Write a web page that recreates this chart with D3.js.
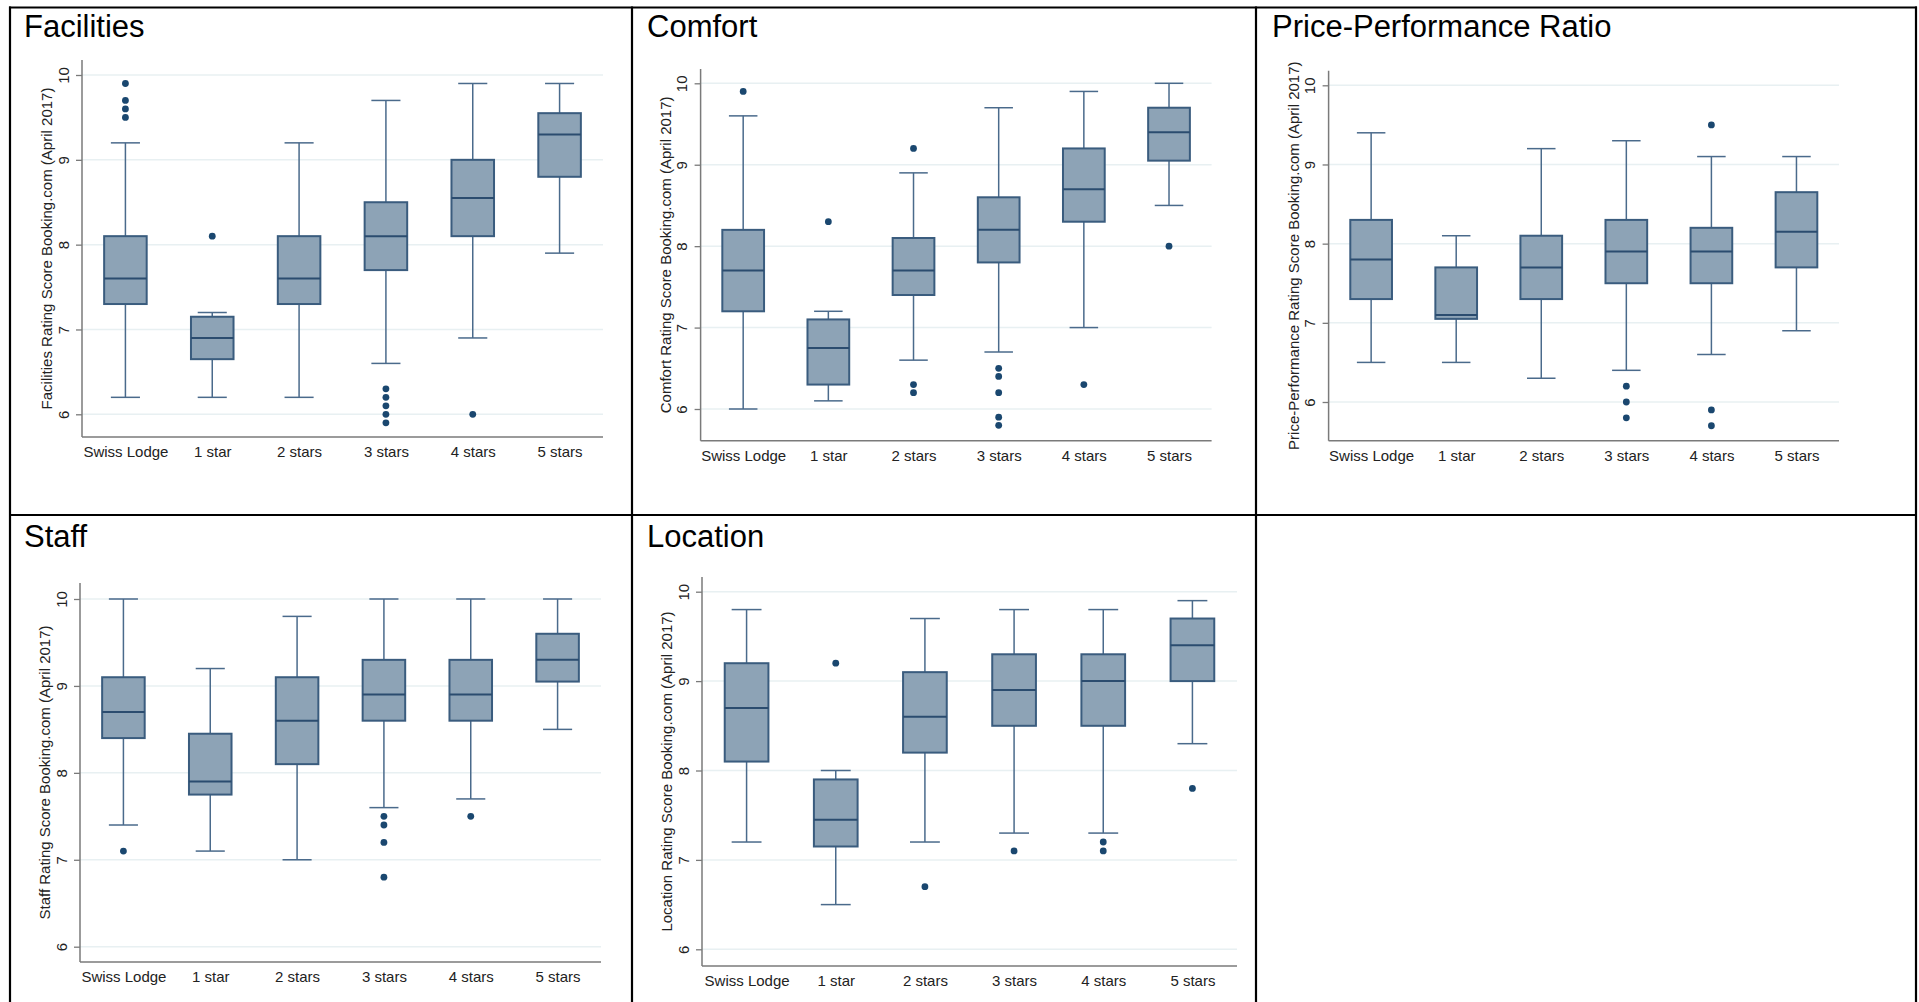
<!DOCTYPE html>
<html>
<head>
<meta charset="utf-8">
<script src="https://cdn.jsdelivr.net/npm/d3@7"></script>
<style>
  html, body { margin: 0; padding: 0; background: #fff; }
  svg { display: block; }
  text { font-family: "Liberation Sans", Arial, sans-serif; }
</style>
</head>
<body>
<svg id="chart" width="1919" height="1002"></svg>
<script>
// ---------- data ----------
const categories = ["Swiss Lodge", "1 star", "2 stars", "3 stars", "4 stars", "5 stars"];
const yTicks = [6, 7, 8, 9, 10];
const panelTitles = ["Facilities", "Comfort", "Price-Performance Ratio", "Staff", "Location"];
const axisTitles = [
  "Facilities Rating Score Booking.com (April 2017)",
  "Comfort Rating Score Booking.com (April 2017)",
  "Price-Performance Rating Score Booking.com (April 2017)",
  "Staff Rating Score Booking.com (April 2017)",
  "Location Rating Score Booking.com (April 2017)"
];

// each row: [lower whisker, Q1, median, Q3, upper whisker]
const facilitiesStats = [[6.2, 7.3, 7.6, 8.1, 9.2], [6.2, 6.65, 6.9, 7.15, 7.2], [6.2, 7.3, 7.6, 8.1, 9.2], [6.6, 7.7, 8.1, 8.5, 9.7], [6.9, 8.1, 8.55, 9.0, 9.9], [7.9, 8.8, 9.3, 9.55, 9.9]];
const facilitiesOutliers = [[9.5, 9.6, 9.7, 9.9], [8.1], [], [5.9, 6.0, 6.1, 6.2, 6.3], [6.0], []];

const comfortStats = [[6.0, 7.2, 7.7, 8.2, 9.6], [6.1, 6.3, 6.75, 7.1, 7.2], [6.6, 7.4, 7.7, 8.1, 8.9], [6.7, 7.8, 8.2, 8.6, 9.7], [7.0, 8.3, 8.7, 9.2, 9.9], [8.5, 9.05, 9.4, 9.7, 10.0]];
const comfortOutliers = [[9.9], [8.3], [9.2, 6.3, 6.2], [6.5, 6.4, 6.2, 5.9, 5.8], [6.3], [8.0]];

const priceStats = [[6.5, 7.3, 7.8, 8.3, 9.4], [6.5, 7.05, 7.1, 7.7, 8.1], [6.3, 7.3, 7.7, 8.1, 9.2], [6.4, 7.5, 7.9, 8.3, 9.3], [6.6, 7.5, 7.9, 8.2, 9.1], [6.9, 7.7, 8.15, 8.65, 9.1]];
const priceOutliers = [[], [], [], [6.2, 6.0, 5.8], [9.5, 5.9, 5.7], []];

const staffStats = [[7.4, 8.4, 8.7, 9.1, 10.0], [7.1, 7.75, 7.9, 8.45, 9.2], [7.0, 8.1, 8.6, 9.1, 9.8], [7.6, 8.6, 8.9, 9.3, 10.0], [7.7, 8.6, 8.9, 9.3, 10.0], [8.5, 9.05, 9.3, 9.6, 10.0]];
const staffOutliers = [[7.1], [], [], [7.5, 7.4, 7.2, 6.8], [7.5], []];

const locationStats = [[7.2, 8.1, 8.7, 9.2, 9.8], [6.5, 7.15, 7.45, 7.9, 8.0], [7.2, 8.2, 8.6, 9.1, 9.7], [7.3, 8.5, 8.9, 9.3, 9.8], [7.3, 8.5, 9.0, 9.3, 9.8], [8.3, 9.0, 9.4, 9.7, 9.9]];
const locationOutliers = [[], [9.2], [6.7], [7.1], [7.2, 7.1], [7.8]];

const panelStats = [facilitiesStats, comfortStats, priceStats, staffStats, locationStats];
const panelOutliers = [facilitiesOutliers, comfortOutliers, priceOutliers, staffOutliers, locationOutliers];

// ---------- layout (pixels) ----------
const layout = [
  { left: 82,    right: 603,  top: 60,    bottom: 437,   y6: 414.3, y10: 75,    tx: 24,   ty: 37 },
  { left: 700.6, right: 1211.6, top: 69,  bottom: 440.7, y6: 409,   y10: 83.3,  tx: 647,  ty: 37 },
  { left: 1328.6, right: 1839, top: 70.7, bottom: 440.7, y6: 402,   y10: 85.3,  tx: 1272, ty: 37 },
  { left: 80,    right: 601,  top: 583,   bottom: 962,   y6: 946.7, y10: 599,   tx: 24,   ty: 547 },
  { left: 702,   right: 1237, top: 577,   bottom: 966,   y6: 949.3, y10: 591.7, tx: 647,  ty: 547 }
];

const C = {
  grid: "#e8f0f2",
  axis: "#7a7a7a",
  fill: "#8da3b6",
  boxStroke: "#3a5c7e",
  median: "#2b4c6f",
  whisker: "#4a6a8b",
  dot: "#1a476f"
};

const svg = d3.select("#chart");

// table borders
const border = svg.append("g").attr("stroke", "#000").attr("stroke-width", 2.2);
[10, 632, 1256, 1916].forEach(x => border.append("line").attr("x1", x).attr("x2", x).attr("y1", 6.5).attr("y2", 1002));
[7.5, 515].forEach(y => border.append("line").attr("x1", 9).attr("x2", 1917).attr("y1", y).attr("y2", y));

layout.forEach((L, i) => {
  const g = svg.append("g");
  const stats = panelStats[i];
  const outs = panelOutliers[i];

  const x = d3.scalePoint().domain(categories).range([L.left, L.right]).padding(0.5);
  const y = d3.scaleLinear().domain([6, 10]).range([L.y6, L.y10]);
  const step = x.step();
  const bw = step * 0.49;
  const cw = step * 0.335;

  // title
  g.append("text").attr("x", L.tx).attr("y", L.ty)
    .attr("font-size", 31).attr("fill", "#000").text(panelTitles[i]);

  // gridlines
  g.append("g").selectAll("line").data(yTicks).join("line")
    .attr("x1", L.left).attr("x2", L.right)
    .attr("y1", d => y(d)).attr("y2", d => y(d))
    .attr("stroke", C.grid).attr("stroke-width", 1.5);

  // y axis
  const yAxis = d3.axisLeft(y).tickValues(yTicks).tickSize(6).tickPadding(7).tickFormat(d3.format("d"));
  const ya = g.append("g").attr("transform", `translate(${L.left},0)`).call(yAxis);
  ya.select(".domain").remove();
  ya.selectAll(".tick line").attr("stroke", C.axis).attr("stroke-width", 1.3);
  ya.selectAll(".tick text")
    .attr("font-size", 15).attr("fill", "#222")
    .attr("x", null).attr("dy", null)
    .attr("text-anchor", "middle")
    .attr("transform", "translate(-13.5,0) rotate(-90)");
  g.append("line").attr("x1", L.left).attr("x2", L.left).attr("y1", L.top).attr("y2", L.bottom)
    .attr("stroke", C.axis).attr("stroke-width", 1.5);

  // x axis
  const xAxis = d3.axisBottom(x).tickSize(0).tickPadding(0);
  const xa = g.append("g").attr("transform", `translate(0,${L.bottom})`).call(xAxis);
  xa.select(".domain").remove();
  xa.selectAll(".tick text").attr("font-size", 15).attr("fill", "#222").attr("dy", null).attr("y", 20);
  g.append("line").attr("x1", L.left).attr("x2", L.right).attr("y1", L.bottom).attr("y2", L.bottom)
    .attr("stroke", C.axis).attr("stroke-width", 1.5);

  // y axis title
  g.append("text")
    .attr("transform", `translate(${L.left - 30},${(L.top + L.bottom) / 2}) rotate(-90)`)
    .attr("text-anchor", "middle").attr("font-size", 15).attr("fill", "#222")
    .text(axisTitles[i]);

  // boxes
  const bx = g.append("g").selectAll("g").data(stats).join("g")
    .attr("transform", (d, j) => `translate(${x(categories[j])},0)`);
  // whiskers
  bx.append("line").attr("x1", 0).attr("x2", 0).attr("y1", d => y(d[0])).attr("y2", d => y(d[1]))
    .attr("stroke", C.whisker).attr("stroke-width", 1.5);
  bx.append("line").attr("x1", 0).attr("x2", 0).attr("y1", d => y(d[3])).attr("y2", d => y(d[4]))
    .attr("stroke", C.whisker).attr("stroke-width", 1.5);
  bx.append("line").attr("x1", -cw / 2).attr("x2", cw / 2).attr("y1", d => y(d[0])).attr("y2", d => y(d[0]))
    .attr("stroke", C.whisker).attr("stroke-width", 1.5);
  bx.append("line").attr("x1", -cw / 2).attr("x2", cw / 2).attr("y1", d => y(d[4])).attr("y2", d => y(d[4]))
    .attr("stroke", C.whisker).attr("stroke-width", 1.5);
  // box
  bx.append("rect").attr("x", -bw / 2).attr("width", bw)
    .attr("y", d => y(d[3])).attr("height", d => y(d[1]) - y(d[3]))
    .attr("fill", C.fill).attr("stroke", C.boxStroke).attr("stroke-width", 2);
  // median
  bx.append("line").attr("x1", -bw / 2).attr("x2", bw / 2).attr("y1", d => y(d[2])).attr("y2", d => y(d[2]))
    .attr("stroke", C.median).attr("stroke-width", 2);

  // outliers
  const pts = [];
  outs.forEach((arr, j) => arr.forEach(v => pts.push({ c: categories[j], v })));
  g.append("g").selectAll("circle").data(pts).join("circle")
    .attr("cx", d => x(d.c)).attr("cy", d => y(d.v)).attr("r", 3.4)
    .attr("fill", C.dot);
});
</script>
</body>
</html>
